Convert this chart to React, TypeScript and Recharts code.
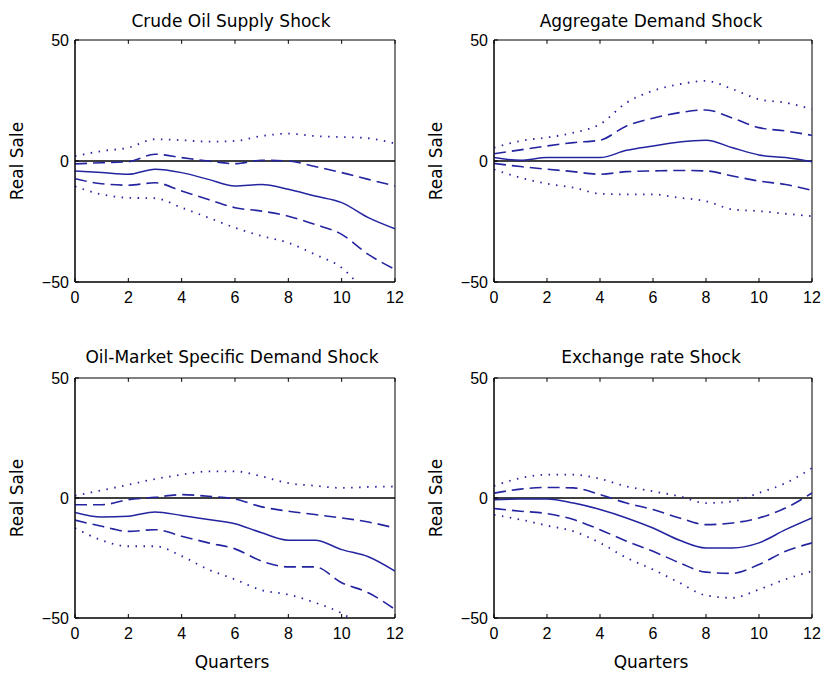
import React from 'react';
import { LineChart, Line, XAxis, YAxis, ReferenceLine, ReferenceArea } from 'recharts';

// Horizon in quarters
const quarters = [0, 1, 2, 3, 4, 5, 6, 7, 8, 9, 10, 11, 12];

// Crude oil supply shock: point response, 68% and 95% bands
const supplyIrf = [-4.1, -4.8, -5.5, -3.4, -4.8, -7.6, -10.3, -9.7, -11.7, -14.5, -17.2, -23.4, -28.0];
const supplyUpper68 = [-1.2, -0.7, -0.3, 2.8, 1.4, 0, -1.1, 0.3, 0, -2.3, -4.8, -7.6, -10.3];
const supplyLower68 = [-7.3, -9.4, -10, -9, -12.4, -15.9, -19.3, -20.7, -22.8, -26.2, -30.3, -38.6, -44.8];
const supplyUpper95 = [2.0, 4.1, 5.5, 9, 8.6, 8, 8.3, 10.3, 11.3, 10.3, 9.9, 9.4, 7.2];
const supplyLower95 = [-10.5, -13.8, -15.2, -15.4, -19.3, -23.4, -27.6, -31, -33.8, -38.6, -44.1, -55, -62];

// Aggregate demand shock
const demandIrf = [1.4, 0.3, 1.4, 1.4, 1.4, 4.4, 6.2, 7.9, 8.6, 5.5, 2.5, 1.4, -0.3];
const demandUpper68 = [3.0, 4.6, 6.2, 7.6, 8.6, 14.5, 17.7, 20, 21.1, 17.7, 13.8, 12.4, 10.6];
const demandLower68 = [-1.0, -2.3, -3.4, -4.4, -5.5, -4.4, -4.1, -3.9, -4.1, -6.2, -8.3, -9.7, -12.1];
const demandUpper95 = [5.5, 8.3, 9.7, 11.7, 15.2, 24.1, 29, 31.7, 33.1, 29.7, 25.5, 24.1, 21.4];
const demandLower95 = [-3.5, -6.9, -9.4, -11, -13.5, -13.8, -13.8, -15.2, -16.6, -20, -20.7, -21.8, -22.8];

// Oil-market specific demand shock
const specificIrf = [-6, -7.9, -7.6, -5.8, -7.3, -9, -10.7, -14.5, -17.6, -17.6, -21.5, -24.5, -30.5];
const specificUpper68 = [-2.8, -2.8, -0.7, 0.3, 1.4, 0.7, -0.4, -3.7, -5.5, -6.9, -8.3, -10, -12.5];
const specificLower68 = [-9.2, -11.8, -13.9, -13.2, -15.9, -18.7, -21.2, -26.3, -28.7, -28.7, -35.3, -39.5, -46.4];
const specificUpper95 = [1.0, 3.2, 5.5, 7.9, 9.7, 11.1, 11.1, 9, 6.2, 5.1, 4.2, 4.6, 4.8];
const specificLower95 = [-12.5, -17.6, -20.1, -20.1, -24.2, -29.8, -33.9, -38.4, -40.2, -43.6, -48, -55, -62];

// Exchange rate shock
const fxIrf = [-0.7, -0.4, -0.4, -2.1, -4.8, -8.3, -12.5, -17.6, -20.8, -20.8, -18.7, -13.2, -8.3];
const fxUpper68 = [2.0, 3.7, 4.4, 4.2, 1.4, -2.1, -4.8, -8.3, -11.1, -10.4, -8.3, -4.2, 2.1];
const fxLower68 = [-4.4, -5.5, -6.5, -9, -13.2, -18, -22.2, -27, -30.9, -31.4, -27.7, -22.2, -18.7];
const fxUpper95 = [5.0, 8.3, 9.7, 9.7, 8, 4.8, 2.8, 0.7, -2.1, -1.4, 2.1, 6.2, 12.5];
const fxLower95 = [-7, -9, -11.5, -13.9, -18.7, -24.9, -29.8, -35.3, -40.6, -41.6, -38.1, -33.9, -30.5];

const xTicks = [0, 2, 4, 6, 8, 10, 12];
const yTicks = [-50, 0, 50];

const titles = [
  'Crude Oil Supply Shock',
  'Aggregate Demand Shock',
  'Oil-Market Specific Demand Shock',
  'Exchange rate Shock',
];
const yLabel = 'Real Sale';
const xLabel = 'Quarters';

const LINE = '#2424a0';
const TICK_FONT = '"Liberation Sans", Arial, sans-serif';
const LABEL_FONT = '"DejaVu Sans", sans-serif';

const X_MIN = 0;
const X_MAX = 12;
const Y_MIN = -50;
const Y_MAX = 50;
// inward tick length on the top edge, in data units
const TOP_TICK = 1.6;

const buildRows = (irf: number[], up68: number[], lo68: number[], up95: number[], lo95: number[]) =>
  quarters.map((q, i) => ({ q, irf: irf[i], up68: up68[i], lo68: lo68[i], up95: up95[i], lo95: lo95[i] }));

const panels = [
  { left: 75, top: 40, w: 320, h: 242, rows: buildRows(supplyIrf, supplyUpper68, supplyLower68, supplyUpper95, supplyLower95) },
  { left: 494, top: 40, w: 318, h: 242, rows: buildRows(demandIrf, demandUpper68, demandLower68, demandUpper95, demandLower95) },
  { left: 75, top: 378, w: 320, h: 240, rows: buildRows(specificIrf, specificUpper68, specificLower68, specificUpper95, specificLower95) },
  { left: 494, top: 378, w: 318, h: 240, rows: buildRows(fxIrf, fxUpper68, fxLower68, fxUpper95, fxLower95) },
];

const Y_AXIS_W = 60;
const TOP_PAD = 30;
const X_AXIS_H = 40;

const fmtY = (v: number) => (v < 0 ? `\u2212${-v}` : `${v}`);

function Panel({ left, top, w, h, rows }: (typeof panels)[number]) {
  const tickStyle = { fill: '#000', fontSize: 16, fontFamily: TICK_FONT };
  return (
    <div style={{ position: 'absolute', left: left - Y_AXIS_W, top: top - TOP_PAD }}>
      <LineChart
        width={Y_AXIS_W + w + 10}
        height={TOP_PAD + h + X_AXIS_H}
        data={rows}
        margin={{ top: TOP_PAD, right: 10, bottom: 0, left: 0 }}
      >
        <XAxis
          dataKey="q"
          type="number"
          domain={[X_MIN, X_MAX]}
          ticks={xTicks}
          height={X_AXIS_H}
          tickSize={-4}
          tickMargin={14}
          tick={tickStyle}
          axisLine={{ stroke: '#000' }}
          tickLine={{ stroke: '#000' }}
          allowDataOverflow
        />
        <YAxis
          type="number"
          domain={[Y_MIN, Y_MAX]}
          ticks={yTicks}
          width={Y_AXIS_W}
          tickSize={-4}
          tickMargin={10}
          tick={tickStyle}
          tickFormatter={fmtY}
          axisLine={{ stroke: '#000' }}
          tickLine={{ stroke: '#000' }}
          allowDataOverflow
        />
        {/* frame around the plot area */}
        <ReferenceArea x1={X_MIN} x2={X_MAX} y1={Y_MIN} y2={Y_MAX} fill="none" stroke="#000" strokeWidth={1} ifOverflow="visible" />
        {xTicks.map((t) => (
          <ReferenceLine
            key={t}
            segment={[
              { x: t, y: Y_MAX },
              { x: t, y: Y_MAX - TOP_TICK },
            ]}
            stroke="#000"
          />
        ))}
        <ReferenceLine y={0} stroke="#000" strokeWidth={1.4} />
        <Line dataKey="up95" type="monotone" stroke={LINE} strokeWidth={1.8} strokeDasharray="1.5 6.5" dot={false} isAnimationActive={false} />
        <Line dataKey="lo95" type="monotone" stroke={LINE} strokeWidth={1.8} strokeDasharray="1.5 6.5" dot={false} isAnimationActive={false} />
        <Line dataKey="up68" type="monotone" stroke={LINE} strokeWidth={1.6} strokeDasharray="12 6" dot={false} isAnimationActive={false} />
        <Line dataKey="lo68" type="monotone" stroke={LINE} strokeWidth={1.6} strokeDasharray="12 6" dot={false} isAnimationActive={false} />
        <Line dataKey="irf" type="monotone" stroke={LINE} strokeWidth={1.5} dot={false} isAnimationActive={false} />
      </LineChart>
    </div>
  );
}

export default function App() {
  const titleSpots = [
    { x: 231, y: 27 },
    { x: 651, y: 27 },
    { x: 232, y: 363 },
    { x: 651, y: 363 },
  ];
  const yLabelSpots = [
    { x: 23, y: 161 },
    { x: 442, y: 161 },
    { x: 23, y: 498 },
    { x: 442, y: 498 },
  ];
  const xLabelSpots = [
    { x: 232, y: 668 },
    { x: 651, y: 668 },
  ];
  return (
    <div style={{ position: 'absolute', left: 0, top: 0, width: 824, height: 677, background: '#fff', overflow: 'hidden' }}>
      {panels.map((p, i) => (
        <Panel key={i} {...p} />
      ))}
      <svg width={824} height={677} style={{ position: 'absolute', left: 0, top: 0, pointerEvents: 'none' }}>
        <g fontFamily={LABEL_FONT} fontSize={17} fill="#000">
          {titleSpots.map((s, i) => (
            <text key={`t${i}`} x={s.x} y={s.y} textAnchor="middle">
              {titles[i]}
            </text>
          ))}
          {yLabelSpots.map((s, i) => (
            <text key={`y${i}`} x={s.x} y={s.y} textAnchor="middle" transform={`rotate(-90 ${s.x} ${s.y})`}>
              {yLabel}
            </text>
          ))}
          {xLabelSpots.map((s, i) => (
            <text key={`x${i}`} x={s.x} y={s.y} textAnchor="middle">
              {xLabel}
            </text>
          ))}
        </g>
      </svg>
    </div>
  );
}
